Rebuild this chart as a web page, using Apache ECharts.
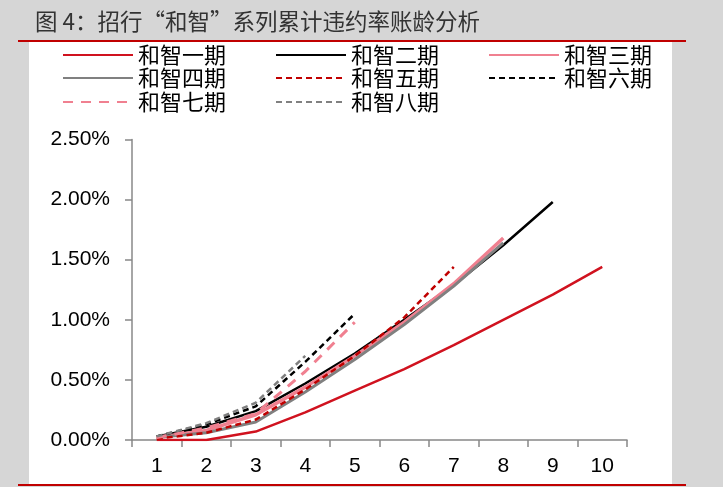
<!DOCTYPE html>
<html>
<head>
<meta charset="utf-8">
<script src="https://cdn.jsdelivr.net/npm/echarts@6/dist/echarts.min.js"></script>
<style>
  html, body { margin: 0; padding: 0; background: #d6d6d6; }
  #main { width: 723px; height: 487px; }
</style>
</head>
<body>
<div id="main"></div>
<script>
// 账龄（期）
var categories = ['1', '2', '3', '4', '5', '6', '7', '8', '9', '10'];
// 累计违约率，单位 %
var hz1 = [0.00, 0.00, 0.07, 0.23, 0.41, 0.59, 0.79, 1.00, 1.21, 1.44];
var hz2 = [0.03, 0.11, 0.24, 0.47, 0.72, 1.00, 1.29, 1.62, 1.98];
var hz3 = [0.02, 0.08, 0.21, 0.44, 0.70, 0.98, 1.30, 1.68];
var hz4 = [0.02, 0.06, 0.15, 0.40, 0.67, 0.96, 1.28, 1.64];
var hz5 = [0.01, 0.06, 0.17, 0.42, 0.70, 1.02, 1.44];
var hz6 = [0.03, 0.13, 0.28, 0.65, 1.05];
var hz7 = [0.02, 0.10, 0.22, 0.57, 0.98];
var hz8 = [0.03, 0.14, 0.31, 0.70];

var names = ['和智一期', '和智二期', '和智三期', '和智四期', '和智五期', '和智六期', '和智七期', '和智八期'];

var chart = echarts.init(document.getElementById('main'));

function line(name, data, color, width, type) {
    return {
        name: name,
        type: 'line',
        data: data,
        symbol: 'none',
        smooth: false,
        lineStyle: { color: color, width: width, type: type },
        itemStyle: { color: color },
        z: 3
    };
}

function legendRow(top, items) {
    return {
        top: top,
        left: 57,
        orient: 'horizontal',
        data: items,
        itemWidth: 70,
        itemHeight: 12,
        itemGap: 49,
        selectedMode: false,
        itemStyle: { opacity: 0 },
        textStyle: {
            fontSize: 22,
            color: '#000',
            fontFamily: 'Noto Sans CJK SC'
        }
    };
}

var option = {
    backgroundColor: '#d6d6d6',
    animation: false,
    title: {
        text: '图 4：招行“和智”系列累计违约率账龄分析',
        left: 30,
        top: 5,
        textStyle: {
            fontSize: 22.5,
            fontWeight: 'normal',
            color: '#333',
            fontFamily: 'Noto Sans CJK SC'
        }
    },
    graphic: [
        { type: 'rect', z: -10, shape: { x: 29, y: 42, width: 643, height: 442 }, style: { fill: '#fff' } },
        { type: 'line', shape: { x1: 18, y1: 41, x2: 686, y2: 41 }, style: { stroke: '#c00000', lineWidth: 2 } },
        { type: 'line', shape: { x1: 18, y1: 485, x2: 686, y2: 485 }, style: { stroke: '#c00000', lineWidth: 2 } }
    ],
    legend: [
        legendRow(39, names.slice(0, 3)),
        legendRow(62, names.slice(3, 6)),
        legendRow(86, names.slice(6, 8))
    ],
    grid: { left: 132, right: 96, top: 139.5, bottom: 47 },
    xAxis: {
        type: 'category',
        data: categories,
        boundaryGap: true,
        axisLine: { lineStyle: { color: '#888', width: 1.5 } },
        axisTick: { show: true, length: 7, lineStyle: { color: '#888', width: 1.5 } },
        axisLabel: { fontSize: 21, color: '#000', margin: 16, fontFamily: 'Liberation Sans' }
    },
    yAxis: {
        type: 'value',
        min: 0,
        max: 2.5,
        interval: 0.5,
        axisLine: { show: true, lineStyle: { color: '#888', width: 1.5 } },
        axisTick: { show: true, length: 7, lineStyle: { color: '#888', width: 1.5 } },
        splitLine: { show: false },
        axisLabel: {
            fontSize: 21,
            color: '#000',
            margin: 22,
            fontFamily: 'Liberation Sans',
            formatter: function (v) { return v.toFixed(2) + '%'; }
        }
    },
    series: [
        line('和智一期', hz1, '#d0121f', 2.5, 'solid'),
        line('和智二期', hz2, '#000000', 2.5, 'solid'),
        line('和智三期', hz3, '#f08090', 3.5, 'solid'),
        line('和智四期', hz4, '#808080', 3, 'solid'),
        line('和智五期', hz5, '#c00000', 2.5, [6, 4]),
        line('和智六期', hz6, '#000000', 2.5, [6, 4]),
        line('和智七期', hz7, '#f08090', 3, [10, 8]),
        line('和智八期', hz8, '#808080', 2.5, [6, 4])
    ]
};

chart.setOption(option);
</script>
</body>
</html>
